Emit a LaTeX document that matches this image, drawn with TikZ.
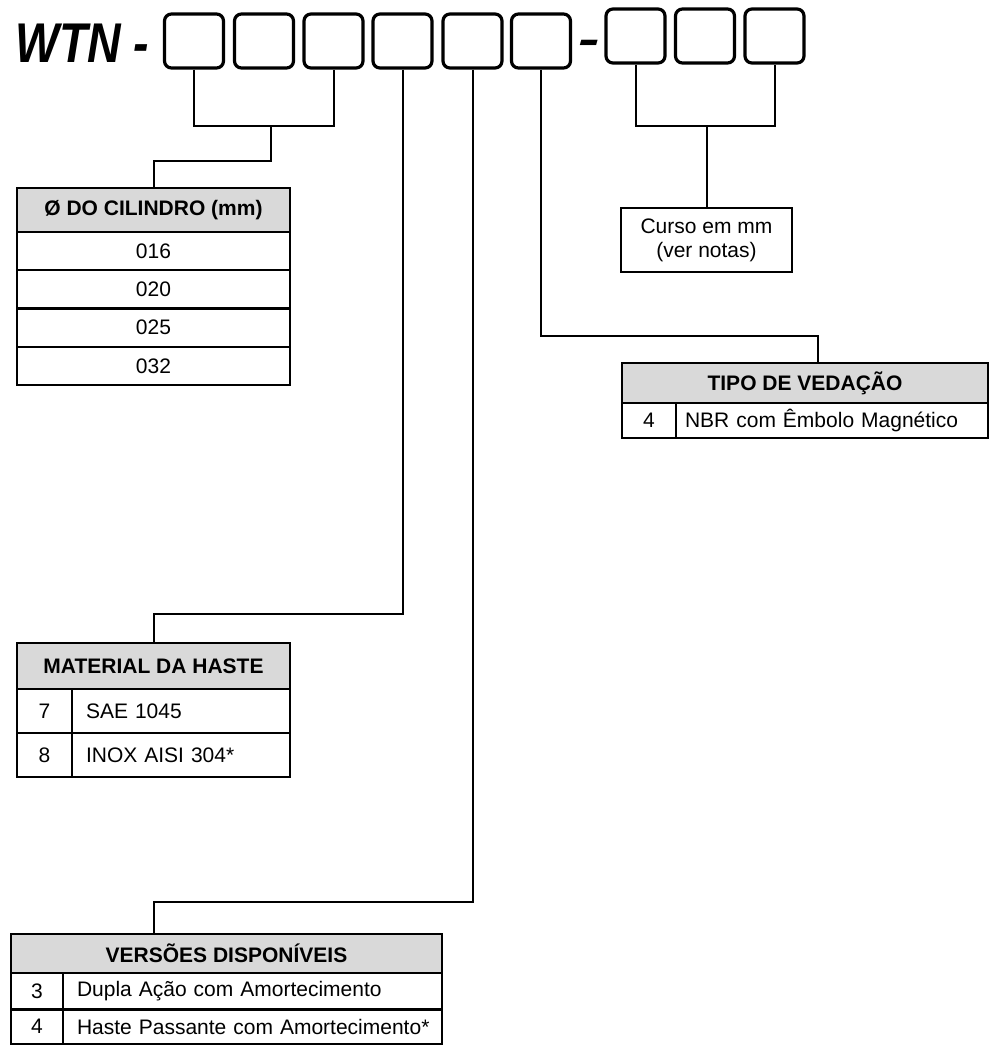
\documentclass[tikz,border=0pt]{standalone}
\usepackage{fontspec}
\setmainfont{Liberation Sans}
\usepackage{graphicx}
\begin{document}
\begin{tikzpicture}[x=1pt,y=-1pt,
  codebox/.style={draw, line width=3.2pt, rounded corners=7pt, minimum width=59pt, minimum height=54pt, inner sep=0pt},
  conn/.style={line width=2pt},
  cell/.style={draw, line width=2.2pt, inner sep=0pt, outer sep=0pt, font=\fontsize{21}{24}\selectfont},
  hdr/.style={cell, fill=black!15, font=\fontsize{21}{24}\selectfont\bfseries},
  txtcell/.style={cell, align=left, text width=#1, minimum width=#1, anchor=west}
]
\useasboundingbox (0,0) rectangle (989,1045);

% title
\node[anchor=base west, inner sep=0pt] (title) at (15,62) {\fontsize{56}{60}\selectfont\bfseries\itshape\scalebox{0.83}[1]{WTN -}};
\node[anchor=base, inner sep=0pt] (dash2) at (589,54) {\fontsize{56}{60}\selectfont\bfseries\itshape\scalebox{1.15}[0.8]{-}};

% code boxes
\node[codebox] (b1) at (194,41) {};
\node[codebox] (b2) at (264,41) {};
\node[codebox] (b3) at (333.5,41) {};
\node[codebox] (b4) at (402.5,41) {};
\node[codebox] (b5) at (472.5,41) {};
\node[codebox] (b6) at (541,41) {};
\node[codebox] (b7) at (635.5,36) {};
\node[codebox] (b8) at (705,36) {};
\node[codebox] (b9) at (774.5,36) {};

% Ø do cilindro table
\node[hdr, minimum width=273pt, minimum height=44pt] (cilh) at (153.5,210) {Ø DO CILINDRO (mm)};
\node[cell, minimum width=273pt, minimum height=38.25pt] (c1) at (153.5,251.1) {016};
\node[cell, minimum width=273pt, minimum height=38.25pt] (c2) at (153.5,289.4) {020};
\node[cell, minimum width=273pt, minimum height=38.25pt] (c3) at (153.5,327.6) {025};
\node[cell, minimum width=273pt, minimum height=38.25pt] (c4) at (153.5,365.9) {032};

% Curso box
\node[draw, line width=2.2pt, minimum width=171pt, minimum height=64pt, align=center, inner sep=0pt,
      font=\fontsize{21}{24}\selectfont] (curso) at (706.5,240) {Curso em mm\\(ver notas)};

% Tipo de vedação table
\node[hdr, minimum width=366pt, minimum height=40pt] (tipoh) at (805,383) {TIPO DE VEDAÇÃO};
\node[cell, minimum width=54pt, minimum height=35pt] (t1n) at (649,420.5) {\raisebox{-2pt}{4}};
\node[txtcell=312pt, minimum height=35pt] (t1t) at (676,420.5) {\hspace*{9pt}NBR com Êmbolo Magnético};

% Material da haste table
\node[hdr, minimum width=273pt, minimum height=46pt] (math) at (153.5,666) {MATERIAL DA HASTE};
\node[cell, minimum width=55pt, minimum height=44pt] (m1n) at (44.5,711) {7};
\node[txtcell=218pt, minimum height=44pt] (m1t) at (72,711) {\hspace*{14pt}SAE 1045};
\node[cell, minimum width=55pt, minimum height=44pt] (m2n) at (44.5,755) {8};
\node[txtcell=218pt, minimum height=44pt] (m2t) at (72,755) {\hspace*{14pt}INOX AISI 304*};

% Versões disponíveis table
\node[hdr, minimum width=431pt, minimum height=39pt] (verh) at (226.5,953.5) {VERSÕES DISPONÍVEIS};
\node[cell, minimum width=52pt, minimum height=36.5pt] (v1n) at (37,991.25) {3};
\node[txtcell=379pt, minimum height=36.5pt] (v1t) at (63,991.25) {\hspace*{14pt}Dupla Ação com Amortecimento};
\node[cell, minimum width=52pt, minimum height=34.5pt] (v2n) at (37,1026.75) {4};
\node[txtcell=379pt, minimum height=34.5pt] (v2t) at (63,1026.75) {\hspace*{14pt}Haste Passante com Amortecimento*};

% connectors
\coordinate (j1) at (271,126);
\draw[conn] (b1.south) |- (j1) -| (b3.south);
\draw[conn] (j1) -- ++(0,35) -| (cilh.north);
\draw[conn] (b4.south) -- ++(0,544) -| (math.north);
\draw[conn] (b5.south) -- ++(0,832) -| ([xshift=-72.5pt]verh.north);
\draw[conn] (b6.south) -- ++(0,266) -| ([xshift=13pt]tipoh.north);
\coordinate (j3) at (706.5,126);
\draw[conn] (b7.south) |- (j3) -| (b9.south);
\draw[conn] (j3) -- (curso.north);
\end{tikzpicture}
\end{document}
